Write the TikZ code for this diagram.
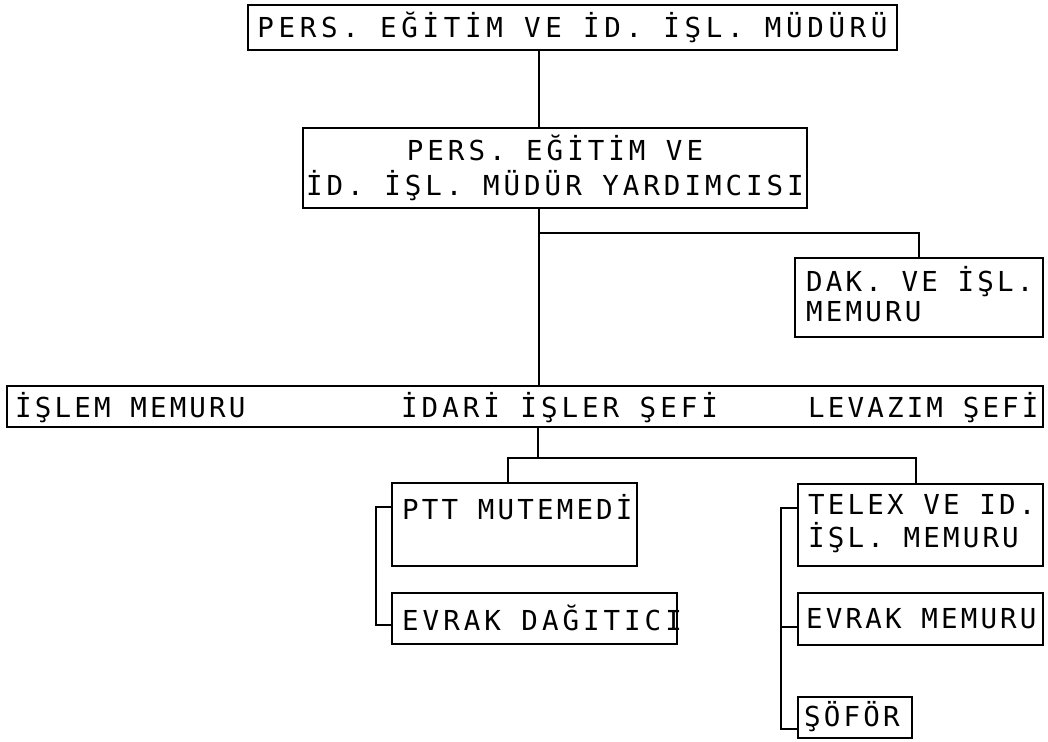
\documentclass[tikz,border=0pt]{standalone}
\usepackage{fontspec}
\newfontfamily\tw{DejaVu Sans Mono}[LetterSpace=11.5]
\newfontfamily\twc{DejaVu Sans Mono}[LetterSpace=14.5]
\newfontfamily\twb{DejaVu Sans Mono}[LetterSpace=17]
\begin{document}
\begin{tikzpicture}[x=1pt,y=-1pt,
  box/.style={draw, line width=2pt, inner sep=0pt, rectangle},
  conn/.style={line width=2pt},
  lbl/.style={inner sep=0pt, anchor=west, align=left},
  every node/.append style={font=\tw\fontsize{27.5}{31}\selectfont}]
\useasboundingbox (0,0) rectangle (1048,741);
% boxes
\node[box, minimum width=649pt, minimum height=45pt, font=\twb\fontsize{27.5}{31}\selectfont] (top) at (572.5,27.5) {PERS. EĞİTİM VE İD. İŞL. MÜDÜRÜ};
\node[box, minimum width=504pt, minimum height=80pt, align=center, font=\twc\fontsize{27.5}{35}\selectfont] (yard) at (555,168) {PERS. EĞİTİM VE\\İD. İŞL. MÜDÜR YARDIMCISI};
\node[box, minimum width=248pt, minimum height=79pt] (dak) at (919,297.5) {};
\node[lbl, font=\tw\fontsize{27.5}{30}\selectfont] (dakt) at (806,294) {DAK. VE İŞL.\\MEMURU};
\node[box, minimum width=1036pt, minimum height=41pt] (wide) at (525,406.5) {};
\node[lbl] (t1) at (15,408) {İŞLEM MEMURU};
\node[lbl, font=\twc\fontsize{27.5}{31}\selectfont] (t2) at (401,408) {İDARİ İŞLER ŞEFİ};
\node[lbl] (t3) at (808,408) {LEVAZIM ŞEFİ};
\node[box, minimum width=245pt, minimum height=83pt] (ptt) at (514.5,524.5) {};
\node[lbl] (pttt) at (402,507) {PTT MUTEMEDİ};
\node[box, minimum width=285pt, minimum height=51pt] (evd) at (534.5,618.5) {};
\node[lbl, font=\twc\fontsize{27.5}{31}\selectfont] (evdt) at (402,618) {EVRAK DAĞITICI};
\node[box, minimum width=245pt, minimum height=82pt] (telex) at (920.5,525) {};
\node[lbl, font=\tw\fontsize{27.5}{33}\selectfont] (telext) at (808,523.5) {TELEX VE ID.\\İŞL. MEMURU};
\node[box, minimum width=245pt, minimum height=52pt] (evm) at (920.5,619) {};
\node[lbl] (evmt) at (806,619) {EVRAK MEMURU};
\node[box, minimum width=114pt, minimum height=41pt] (sof) at (855,717.5) {};
\node[lbl] (soft) at (804,717) {ŞÖFÖR};
% coordinates for connectors
\coordinate (sp) at (539,0);
\coordinate (b1) at (539,233);
\coordinate (h) at (538,458);
\coordinate (hl) at (508,458);
\coordinate (hr) at (916,458);
\coordinate (l1) at (376,507);
\coordinate (l2) at (376,625);
\coordinate (r1) at (781,508);
\coordinate (r2) at (781,627);
\coordinate (r3) at (781,729);
% connectors
\draw[conn] (top.south -| sp) -- (yard.north -| sp);
\draw[conn] (yard.south -| sp) -- (wide.north -| sp);
\draw[conn] (b1) -| (dak.north);
\draw[conn] (wide.south -| h) -- (h);
\draw[conn] (ptt.north -| hl) -- (hl) -- (hr) -- (telex.north -| hr);
\draw[conn] (ptt.west |- l1) -- (l1) -- (l2) -- (evd.west |- l2);
\draw[conn] (telex.west |- r1) -- (r1) -- (r3) -- (sof.west |- r3);
\draw[conn] (r2) -- (evm.west |- r2);
\end{tikzpicture}
\end{document}
